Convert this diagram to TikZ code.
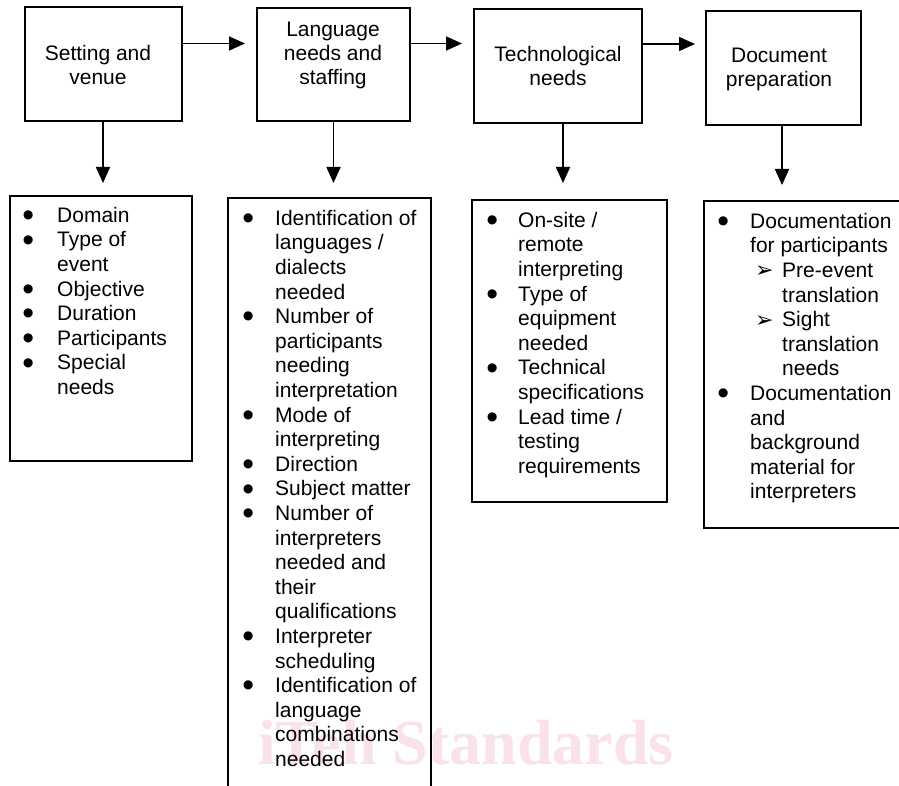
\documentclass[tikz,border=0pt]{standalone}
\usepackage{fontspec}
\setmainfont{Liberation Sans}
\newfontfamily\wmfont{Liberation Serif}
\newfontfamily\dejavu{DejaVu Sans}
\usetikzlibrary{arrows.meta}
\definecolor{wmpink}{RGB}{249,226,234}
\newlength\bulw
\newcommand\bu{\makebox[\bulw][l]{\hspace{-2.2pt}\raisebox{-4.3pt}{\scalebox{1.6}{•}}}}
\newcommand\subar{\makebox[32pt][l]{\hspace{5pt}\raisebox{-0.5pt}{\dejavu\fontsize{22}{22}\selectfont ➢}}}
\begin{document}
\begin{tikzpicture}[x=1pt,y=-1pt,
  box/.style={draw, line width=1.7pt, inner sep=0pt},
  lbl/.style={inner sep=0pt, anchor=north, font=\fontsize{21}{24}\selectfont},
  lst/.style={inner sep=0pt, anchor=north west, font=\fontsize{21}{24.6}\selectfont},
  arr/.style={line width=1.7pt, -{Triangle[length=16pt,width=14pt]}},
  wm/.style={inner sep=0pt, anchor=base west, text=wmpink, font=\wmfont\bfseries\fontsize{64}{64}\selectfont}]
\useasboundingbox (0,0) rectangle (899,786);
\clip (0,0) rectangle (899,786);
\fill[white] (0,0) rectangle (899,786);
% watermark
\node[wm] (wm) at (258,764) {iTeh Standards};
% top boxes
\node[box, minimum width=157pt, minimum height=114pt] (b1) at (103.5,64) {};
\node[box, minimum width=153pt, minimum height=113pt] (b2) at (333.5,64.5) {};
\node[box, minimum width=168pt, minimum height=114pt] (b3) at (558,66) {};
\node[box, minimum width=155pt, minimum height=114pt] (b4) at (783.5,68) {};
\node[lbl] (t1) at (98,43.2) {\begin{tabular}{@{}c@{}}Setting and\\venue\end{tabular}};
\node[lbl] (t2) at (333,19.2) {\begin{tabular}{@{}c@{}}Language\\needs and\\staffing\end{tabular}};
\node[lbl] (t3) at (558,44.2) {\begin{tabular}{@{}c@{}}Technological\\needs\end{tabular}};
\node[lbl] (t4) at (779,45.2) {\begin{tabular}{@{}c@{}}Document\\preparation\end{tabular}};
% lower boxes
\node[box, minimum width=182pt, minimum height=265pt] (L1) at (101,328.5) {};
\node[box, minimum width=203pt, minimum height=602pt] (L2) at (329.5,499) {};
\node[box, minimum width=195pt, minimum height=302pt] (L3) at (569.5,351) {};
\node[box, minimum width=206pt, minimum height=327pt] (L4) at (807,364.5) {};
% lists
\node[lst] (l1) at (24.3,204.8) {\setlength{\bulw}{32.7pt}\begin{tabular}{@{}l@{}l@{}}
\bu & Domain\\
\bu & Type of\\
    & event\\
\bu & Objective\\
\bu & Duration\\
\bu & Participants\\
\bu & Special\\
    & needs
\end{tabular}};
\node[lst] (l2) at (244.3,207.8) {\setlength{\bulw}{30.7pt}\begin{tabular}{@{}l@{}l@{}}
\bu & Identification of\\
    & languages /\\
    & dialects\\
    & needed\\
\bu & Number of\\
    & participants\\
    & needing\\
    & interpretation\\
\bu & Mode of\\
    & interpreting\\
\bu & Direction\\
\bu & Subject matter\\
\bu & Number of\\
    & interpreters\\
    & needed and\\
    & their\\
    & qualifications\\
\bu & Interpreter\\
    & scheduling\\
\bu & Identification of\\
    & language\\
    & combinations\\
    & needed
\end{tabular}};
\node[lst] (l3) at (488.3,209.8) {\setlength{\bulw}{29.7pt}\begin{tabular}{@{}l@{}l@{}}
\bu & On-site /\\
    & remote\\
    & interpreting\\
\bu & Type of\\
    & equipment\\
    & needed\\
\bu & Technical\\
    & specifications\\
\bu & Lead time /\\
    & testing\\
    & requirements
\end{tabular}};
\node[lst] (l4) at (719.3,210.8) {\setlength{\bulw}{30.7pt}\begin{tabular}{@{}l@{}l@{}l@{}}
\bu & \multicolumn{2}{@{}l@{}}{Documentation}\\
    & \multicolumn{2}{@{}l@{}}{for participants}\\
    & \subar & Pre-event\\
    & & translation\\
    & \subar & Sight\\
    & & translation\\
    & & needs\\
\bu & \multicolumn{2}{@{}l@{}}{Documentation}\\
    & \multicolumn{2}{@{}l@{}}{and}\\
    & \multicolumn{2}{@{}l@{}}{background}\\
    & \multicolumn{2}{@{}l@{}}{material for}\\
    & \multicolumn{2}{@{}l@{}}{interpreters}
\end{tabular}};
% arrows
\coordinate (h1) at (245,43.5);
\coordinate (h2) at (462,43.5);
\coordinate (h3) at (695,44);
\draw[arr] (b1.east |- h1) -- (h1);
\draw[arr] (b2.east |- h2) -- (h2);
\draw[arr] (b3.east |- h3) -- (h3);
\coordinate (v1) at (103,183);
\coordinate (v2) at (333.5,183);
\coordinate (v3) at (563,183);
\coordinate (v4) at (782,185);
\draw[arr] (b1.south -| v1) -- (v1);
\draw[arr] (b2.south -| v2) -- (v2);
\draw[arr] (b3.south -| v3) -- (v3);
\draw[arr] (b4.south -| v4) -- (v4);
\end{tikzpicture}
\end{document}
